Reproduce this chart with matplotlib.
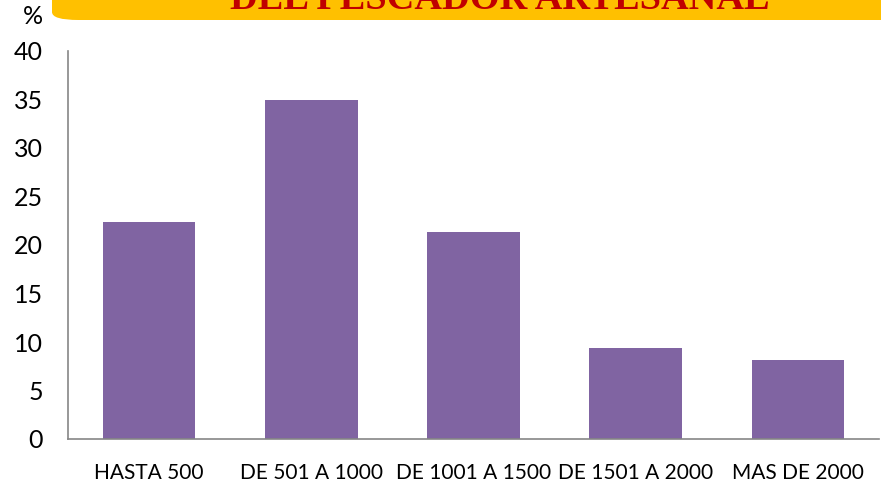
import matplotlib
matplotlib.use("Agg")
import matplotlib.pyplot as plt
from matplotlib.patches import FancyBboxPatch

categories = ["HASTA 500", "DE 501 A 1000", "DE 1001 A 1500",
              "DE 1501 A 2000", "MAS DE 2000"]
percentages = [22.4, 34.9, 21.3, 9.4, 8.1]
y_ticks = [0, 5, 10, 15, 20, 25, 30, 35, 40]
title = "DEL PESCADOR ARTESANAL"

W, H = 881, 483
fig = plt.figure(figsize=(W / 100, H / 100), dpi=100)
ax = fig.add_axes([68 / W, 1 - 439 / H, (879 - 68) / W, (439 - 51) / H])

ax.bar(range(len(categories)), percentages, width=0.57, color="#8064A2")
ax.set_xlim(-0.5, len(categories) - 0.5)
ax.set_ylim(0, 40)
ax.set_yticks(y_ticks)
ax.set_xticks(range(len(categories)))
ax.set_xticklabels(categories, fontsize=15, family="Lato")
ax.tick_params(axis="both", length=0)
ax.tick_params(axis="x", pad=17)
ax.tick_params(axis="y", pad=18)
for lbl in ax.get_yticklabels():
    lbl.set_fontsize(18)
    lbl.set_family("Lato")

for side in ("top", "right"):
    ax.spines[side].set_visible(False)
for side in ("left", "bottom"):
    ax.spines[side].set_color("#868686")
    ax.spines[side].set_linewidth(1.2)

fig.text(33 / W, 1 - 17 / H, "%", fontsize=18, family="Lato",
         ha="center", va="center")

# yellow title banner running off the top/right edge
banner = FancyBboxPatch((52 / W, 1 - 20 / H), 1.0, 0.2,
                        boxstyle="round,pad=0,rounding_size=0.03",
                        transform=fig.transFigure, facecolor="#FFC000",
                        edgecolor="none", mutation_aspect=H / W)
fig.patches.append(banner)
fig.text(500 / W, 1 - 9 / H, title, fontsize=27.6, fontweight="bold",
         family="Liberation Serif", color="#C00000", ha="center",
         va="baseline")

fig.savefig("out.png", dpi=100)
